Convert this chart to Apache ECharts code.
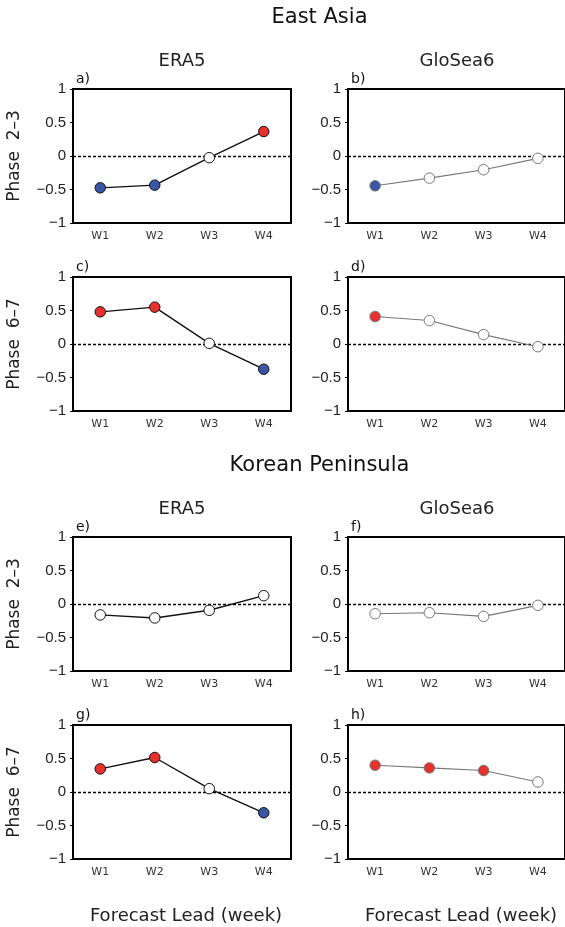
<!DOCTYPE html>
<html>
<head>
<meta charset="utf-8">
<script src="https://cdn.jsdelivr.net/npm/echarts@6/dist/echarts.min.js"></script>
<style>html,body{margin:0;padding:0;background:#fff}#c{width:565px;height:927px}</style>
</head>
<body>
<div id="c"></div>
<script>
// ---- data ----
const weeks = ['W1', 'W2', 'W3', 'W4'];
const yTicks = [-1, -0.5, 0, 0.5, 1];

const eaEra5P23 = [-0.475, -0.435, -0.025, 0.365];
const eaEra5P23Sig = ['neg', 'neg', 'none', 'pos'];
const eaGlo6P23 = [-0.445, -0.33, -0.205, -0.035];
const eaGlo6P23Sig = ['neg', 'none', 'none', 'none'];
const eaEra5P67 = [0.48, 0.55, 0.01, -0.376];
const eaEra5P67Sig = ['pos', 'pos', 'none', 'neg'];
const eaGlo6P67 = [0.41, 0.35, 0.14, -0.04];
const eaGlo6P67Sig = ['pos', 'none', 'none', 'none'];

const kpEra5P23 = [-0.163, -0.208, -0.094, 0.124];
const kpEra5P23Sig = ['none', 'none', 'none', 'none'];
const kpGlo6P23 = [-0.145, -0.13, -0.185, -0.02];
const kpGlo6P23Sig = ['none', 'none', 'none', 'none'];
const kpEra5P67 = [0.345, 0.515, 0.05, -0.31];
const kpEra5P67Sig = ['pos', 'pos', 'none', 'neg'];
const kpGlo6P67 = [0.40, 0.36, 0.32, 0.15];
const kpGlo6P67Sig = ['pos', 'pos', 'pos', 'none'];

const panelLabels = ['a)', 'b)', 'c)', 'd)', 'e)', 'f)', 'g)', 'h)'];
const rowTitles = ['Phase  2\u20133', 'Phase  6\u20137', 'Phase  2\u20133', 'Phase  6\u20137'];
const colTitles = ['ERA5', 'GloSea6'];
const regionTitles = ['East Asia', 'Korean Peninsula'];
const xTitle = 'Forecast Lead (week)';

// ---- layout ----
const lefts = [73, 348];
const W = 218;
const tops = [89, 277, 537, 725];
const H = 134;
const sigColor = { pos: '#e8302d', neg: '#3a55a6', none: '#ffffff' };

const panels = [
  [eaEra5P23, eaEra5P23Sig], [eaGlo6P23, eaGlo6P23Sig],
  [eaEra5P67, eaEra5P67Sig], [eaGlo6P67, eaGlo6P67Sig],
  [kpEra5P23, kpEra5P23Sig], [kpGlo6P23, kpGlo6P23Sig],
  [kpEra5P67, kpEra5P67Sig], [kpGlo6P67, kpGlo6P67Sig]
];

const grid = [], xAxis = [], yAxis = [], series = [], graphic = [];
panels.forEach((p, i) => {
  const col = i % 2, row = Math.floor(i / 2);
  const isGlo = col === 1;
  grid.push({ left: lefts[col], top: tops[row], width: W, height: H, show: true,
    borderColor: '#000', borderWidth: 2, backgroundColor: 'transparent' });
  xAxis.push({ type: 'category', gridIndex: i, data: weeks, boundaryGap: true,
    axisLine: { show: true, onZero: false, lineStyle: { color: '#000', width: 2 } },
    axisTick: { show: false },
    axisLabel: { color: '#333', fontFamily: 'DejaVu Sans', fontSize: 11, margin: 8 } });
  yAxis.push({ type: 'value', gridIndex: i, min: -1, max: 1, interval: 0.5,
    splitLine: { show: false },
    axisLine: { show: true, onZero: false, lineStyle: { color: '#000', width: 2 } },
    axisTick: { show: true, length: 3, lineStyle: { color: '#000', width: 1 } },
    axisLabel: { color: '#222', fontFamily: 'Liberation Sans', fontSize: 15, margin: 7,
      formatter: v => yTicks.includes(v) ? String(v).replace('-', '\u2212') : '' } });
  series.push({ type: 'line', xAxisIndex: i, yAxisIndex: i,
    data: p[0].map((v, k) => ({ value: v,
      itemStyle: { color: sigColor[p[1][k]], borderColor: isGlo ? '#777' : '#111', borderWidth: 1 } })),
    symbol: 'circle', symbolSize: 10.5, showSymbol: true,
    lineStyle: { color: isGlo ? '#777' : '#111', width: isGlo ? 1.1 : 1.4 },
    z: 5, animation: false,
    markLine: { silent: true, symbol: 'none', label: { show: false },
      lineStyle: { color: '#000', type: [3, 2], width: 1.3 },
      data: [{ yAxis: 0 }], z: 1 } });
  graphic.push({ type: 'text', left: lefts[col] + 3, top: tops[row] - 17,
    style: { text: panelLabels[i], font: '14px "DejaVu Sans"', fill: '#111' } });
});

rowTitles.forEach((t, r) => {
  graphic.push({ type: 'text', x: 15, y: tops[r] + H / 2, rotation: Math.PI / 2,
    style: { text: t, font: '17px "DejaVu Sans"', fill: '#222', align: 'center', verticalAlign: 'middle' } });
});
[0, 2].forEach((r, k) => {
  graphic.push({ type: 'text', x: (lefts[0] + lefts[1] + W) / 2, y: tops[r] - 71,
    style: { text: regionTitles[k], font: '21px "DejaVu Sans"', fill: '#111', align: 'center', verticalAlign: 'middle' } });
  colTitles.forEach((t, c) => {
    graphic.push({ type: 'text', x: lefts[c] + W / 2, y: tops[r] - 28,
      style: { text: t, font: '18px "DejaVu Sans"', fill: '#222', align: 'center', verticalAlign: 'middle' } });
  });
});
[0, 1].forEach(c => {
  graphic.push({ type: 'text', x: lefts[c] + W / 2 + 4, y: 916,
    style: { text: xTitle, font: '18px "DejaVu Sans"', fill: '#222', align: 'center', verticalAlign: 'middle' } });
});

const chart = echarts.init(document.getElementById('c'), null, { renderer: 'canvas' });
chart.setOption({ animation: false, backgroundColor: '#fff', grid, xAxis, yAxis, series, graphic });
</script>
</body>
</html>
